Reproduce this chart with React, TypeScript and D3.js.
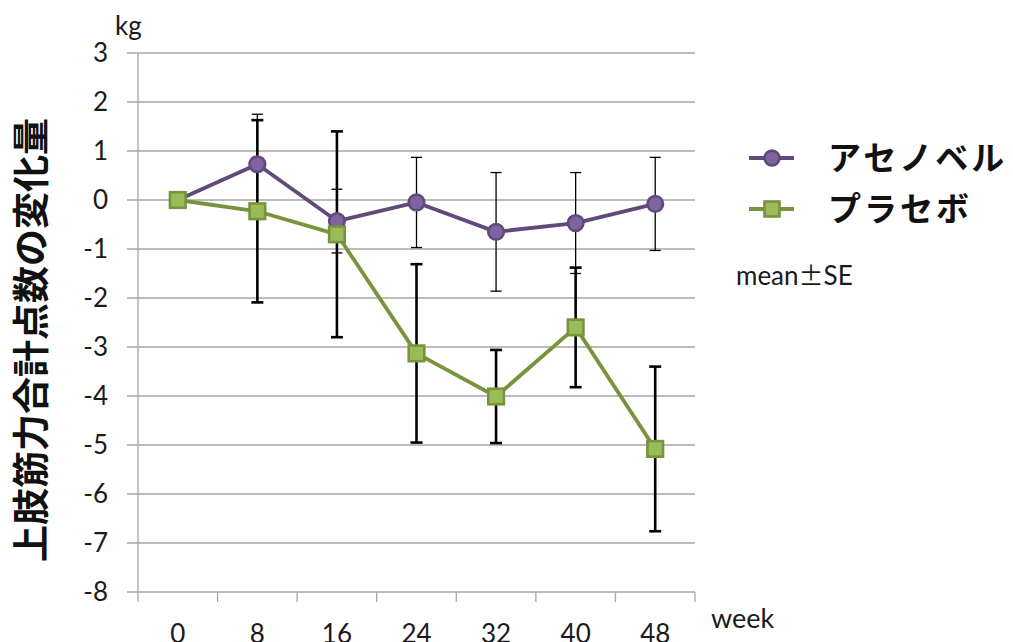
import React, { useEffect, useRef } from 'react';
import { scaleBand, scaleLinear, select, line, range } from 'd3';

const weeks = ['0', '8', '16', '24', '32', '40', '48'];
const yTicks = range(-8, 4);

const acenobelMean = [0, 0.73, -0.43, -0.05, -0.65, -0.47, -0.08];
const acenobelSE = [0, 1.02, 0.65, 0.92, 1.21, 1.03, 0.95];

const placeboMean = [0, -0.23, -0.7, -3.13, -4.01, -2.6, -5.08];
const placeboSE = [0, 1.86, 2.1, 1.82, 0.95, 1.22, 1.68];

const seriesNames = ['アセノベル', 'プラセボ'];

const W = 1013;
const H = 642;
const margin = { top: 53, right: 318, bottom: 50, left: 138 };

const latin = 'Lato, "Open Sans", sans-serif';
const cjk = '"Noto Sans CJK JP", "Noto Sans", sans-serif';

const App: React.FC = () => {
  const svgRef = useRef<SVGSVGElement>(null);

  useEffect(() => {
    const svg = select(svgRef.current);
    svg.selectAll('*').remove();

    const x = scaleBand().domain(weeks).range([margin.left, W - margin.right]);
    const y = scaleLinear().domain([-8, 3]).range([H - margin.bottom, margin.top]);
    const cx = (i: number) => (x(weeks[i]) as number) + x.bandwidth() / 2;

    const gridColor = '#a6a6a6';

    // horizontal grid + y ticks
    svg.append('g')
      .selectAll('line')
      .data(yTicks)
      .join('line')
      .attr('x1', margin.left - 11)
      .attr('x2', W - margin.right)
      .attr('y1', (d) => y(d))
      .attr('y2', (d) => y(d))
      .attr('stroke', gridColor)
      .attr('stroke-width', 1.3);

    svg.append('g')
      .selectAll('text')
      .data(yTicks)
      .join('text')
      .attr('x', 108)
      .attr('y', (d) => y(d))
      .attr('dy', '0.36em')
      .attr('text-anchor', 'end')
      .attr('font-family', latin)
      .attr('font-size', 26)
      .attr('fill', '#1a1a1a')
      .text((d) => String(d));

    // y axis line
    svg.append('line')
      .attr('x1', margin.left).attr('x2', margin.left)
      .attr('y1', y(3)).attr('y2', y(-8))
      .attr('stroke', gridColor).attr('stroke-width', 1.3);

    // x ticks at band edges
    const edges = weeks.map((w) => x(w) as number).concat([W - margin.right]);
    svg.append('g')
      .selectAll('line')
      .data(edges)
      .join('line')
      .attr('x1', (d) => d).attr('x2', (d) => d)
      .attr('y1', y(-8)).attr('y2', y(-8) + 10)
      .attr('stroke', gridColor).attr('stroke-width', 1.3);

    svg.append('g')
      .selectAll('text')
      .data(weeks)
      .join('text')
      .attr('x', (_d, i) => cx(i))
      .attr('y', 643)
      .attr('text-anchor', 'middle')
      .attr('font-family', latin)
      .attr('font-size', 26)
      .attr('fill', '#1a1a1a')
      .text((d) => d);

    svg.append('text')
      .attr('x', 711).attr('y', 628)
      .attr('font-family', latin).attr('font-size', 27).attr('fill', '#1a1a1a')
      .text('week');

    svg.append('text')
      .attr('x', 115).attr('y', 35)
      .attr('font-family', latin).attr('font-size', 26).attr('fill', '#1a1a1a')
      .text('kg');

    svg.append('text')
      .attr('transform', `translate(45, ${(117 + 563) / 2}) rotate(-90)`)
      .attr('text-anchor', 'middle')
      .attr('font-family', cjk).attr('font-size', 37).attr('font-weight', 'bold')
      .attr('fill', '#111')
      .text('上肢筋力合計点数の変化量');

    // error bars
    const errBars = (mean: number[], se: number[], width: number, cap: number) => {
      const g = svg.append('g');
      mean.forEach((m, i) => {
        if (se[i] === 0) return;
        const xx = cx(i);
        const top = y(m + se[i]);
        const bot = y(m - se[i]);
        g.append('line').attr('x1', xx).attr('x2', xx).attr('y1', top).attr('y2', bot)
          .attr('stroke', '#000').attr('stroke-width', width);
        [top, bot].forEach((yy) => {
          g.append('line').attr('x1', xx - cap / 2).attr('x2', xx + cap / 2)
            .attr('y1', yy).attr('y2', yy)
            .attr('stroke', '#000').attr('stroke-width', width);
        });
      });
    };
    errBars(acenobelMean, acenobelSE, 1.3, 11);
    errBars(placeboMean, placeboSE, 2.6, 12);

    const path = line<number>().x((_d, i) => cx(i)).y((d) => y(d));

    // アセノベル
    svg.append('path')
      .attr('d', path(acenobelMean))
      .attr('fill', 'none').attr('stroke', '#604a7b').attr('stroke-width', 3.8)
      .attr('stroke-linejoin', 'round');
    svg.append('g')
      .selectAll('circle')
      .data(acenobelMean)
      .join('circle')
      .attr('cx', (_d, i) => cx(i))
      .attr('cy', (d) => y(d))
      .attr('r', 7.8)
      .attr('fill', '#8064a2').attr('stroke', '#604a7b').attr('stroke-width', 2.6);

    // プラセボ
    svg.append('path')
      .attr('d', path(placeboMean))
      .attr('fill', 'none').attr('stroke', '#77933c').attr('stroke-width', 3.8)
      .attr('stroke-linejoin', 'round');
    svg.append('g')
      .selectAll('rect')
      .data(placeboMean)
      .join('rect')
      .attr('x', (_d, i) => cx(i) - 7.8)
      .attr('y', (d) => y(d) - 7.8)
      .attr('width', 15.6).attr('height', 15.6)
      .attr('fill', '#9bbb59').attr('stroke', '#77933c').attr('stroke-width', 2.6);

    // legend
    const lg = svg.append('g');
    const legendY = [158, 209];
    const lineColors = ['#604a7b', '#77933c'];
    seriesNames.forEach((name, i) => {
      lg.append('line').attr('x1', 749).attr('x2', 794)
        .attr('y1', legendY[i]).attr('y2', legendY[i])
        .attr('stroke', lineColors[i]).attr('stroke-width', 3.8);
      if (i === 0) {
        lg.append('circle').attr('cx', 772).attr('cy', legendY[i]).attr('r', 7.4)
          .attr('fill', '#8064a2').attr('stroke', '#604a7b').attr('stroke-width', 2.6);
      } else {
        lg.append('rect').attr('x', 772 - 7.5).attr('y', legendY[i] - 7.5)
          .attr('width', 15).attr('height', 15)
          .attr('fill', '#9bbb59').attr('stroke', '#77933c').attr('stroke-width', 2.6);
      }
      lg.append('text')
        .attr('x', 828).attr('y', legendY[i]).attr('dy', '0.36em')
        .attr('font-family', cjk).attr('font-size', 33).attr('font-weight', 'bold')
        .attr('letter-spacing', 3).attr('fill', '#111')
        .text(name);
    });

    const se = svg.append('text')
      .attr('x', 736).attr('y', 285)
      .attr('font-family', latin).attr('font-size', 26).attr('fill', '#1a1a1a');
    se.append('tspan').text('mean');
    se.append('tspan').attr('font-family', cjk).attr('font-size', 25).text('±');
    se.append('tspan').text('SE');
  }, []);

  return (
    <svg
      ref={svgRef}
      width={W}
      height={H}
      style={{ position: 'absolute', left: 0, top: 0, background: '#fff' }}
    />
  );
};

export default App;
